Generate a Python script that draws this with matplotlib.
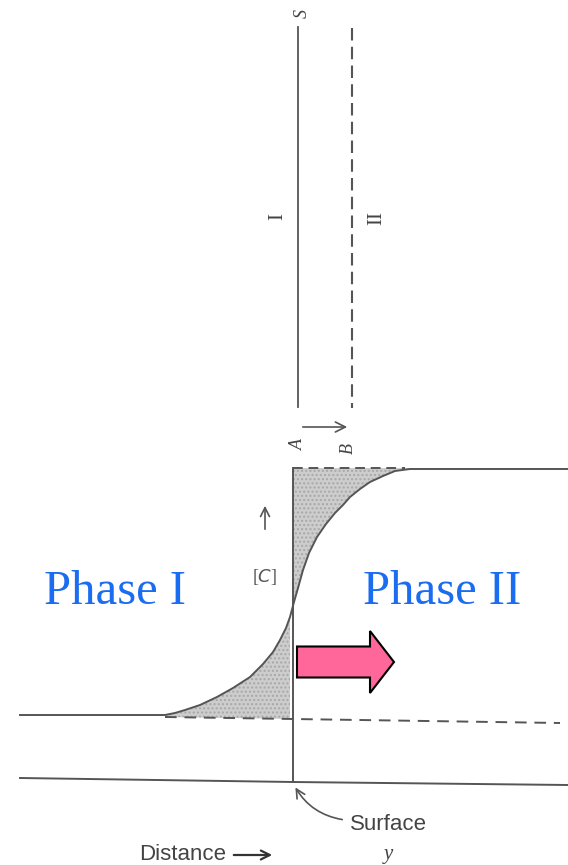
import matplotlib
matplotlib.use("Agg")
import matplotlib.pyplot as plt
import matplotlib.patches as mpatches

# profil stezenia [C] (piksele obrazu)
curve_x = [20, 165, 175, 185, 200, 217, 233, 250, 263, 273, 280, 286, 290, 294,
           298, 303, 309, 317, 326, 335, 343, 350, 360, 370, 383, 395, 410, 568]
curve_y = [715, 715, 713, 710, 705, 697, 688, 677, 664, 652, 640, 628, 617, 602,
           588, 570, 553, 537, 524, 513, 505, 497, 489, 482, 476, 471, 469, 469]

surface_x = 293
top_level = 468
low_level_x = [165, 293, 560]
low_level_y = [717, 719, 723]
axis_x = [20, 293, 568]
axis_y = [778, 782, 785]

line_col = "#555555"
text_col = "#444444"
blue = "#1a6cf0"

fig = plt.figure(figsize=(5.68, 8.65), dpi=100)
ax = fig.add_axes([0, 0, 1, 1])
ax.set_xlim(0, 568)
ax.set_ylim(865, 0)
ax.axis("off")

# gorny panel (obrocony wykres)
ax.plot([298, 298], [27, 407], color=line_col, lw=1.3)
ax.plot([352, 352], [28, 408], color=line_col, lw=1.5, dashes=(6, 3))
ax.annotate("", xy=(350, 427), xytext=(300, 427),
            arrowprops=dict(arrowstyle="->", color=line_col, lw=1.2, mutation_scale=18))
serif_it = dict(rotation=90, ha="center", va="center", family="Liberation Serif",
                style="italic", fontsize=13, color=text_col)
ax.text(302, 13, "S", **serif_it)
ax.text(298, 445, "A", **serif_it)
ax.text(348, 448, "B", **serif_it)
ax.text(278, 217, "I", rotation=90, ha="center", va="center", family="Liberation Serif",
        fontsize=15, color=text_col)
ax.text(377, 218, "II", rotation=90, ha="center", va="center", family="Liberation Serif",
        fontsize=15, color=text_col)

# zacienione obszary
lo_x = [x for x in curve_x if 165 <= x <= surface_x]
lo_y = [y for x, y in zip(curve_x, curve_y) if 165 <= x <= surface_x]
lo_base = [717 + (x - 165) * 2 / 128 for x in lo_x]
ax.fill_between(lo_x, lo_y, lo_base, facecolor="#cdcdcd", edgecolor="#a8a8a8",
                hatch="....", lw=0)
hi_x = [surface_x] + [x for x in curve_x if surface_x < x <= 410]
hi_y = [604] + [y for x, y in zip(curve_x, curve_y) if surface_x < x <= 410]
ax.fill_between(hi_x, top_level, hi_y, facecolor="#cdcdcd", edgecolor="#a8a8a8",
                hatch="....", lw=0)

# linie
ax.plot(curve_x, curve_y, color=line_col, lw=1.4)
ax.plot([surface_x, surface_x], [top_level, axis_y[1]], color=line_col, lw=1.4)
ax.plot([surface_x, 405], [top_level, top_level], color=line_col, lw=1.4, dashes=(5, 3))
ax.plot(low_level_x, low_level_y, color=line_col, lw=1.4, dashes=(6, 4))
ax.plot(axis_x, axis_y, color=line_col, lw=1.4)

# [C]
ax.annotate("", xy=(265, 503), xytext=(265, 532),
            arrowprops=dict(arrowstyle="->", color=line_col, lw=1.2, mutation_scale=16))
ax.text(265, 577, "[$C$]", ha="center", va="center", family="Liberation Serif",
        fontsize=13, color=line_col)

# napisy faz
ax.text(115, 592, "Phase I", ha="center", va="center", family="Liberation Serif",
        fontsize=35, color=blue)
ax.text(442, 592, "Phase II", ha="center", va="center", family="Liberation Serif",
        fontsize=35, color=blue)

# rozowa strzalka
ax.add_patch(mpatches.FancyArrow(297, 662, 73, 0, width=31, head_width=62, head_length=24,
                                 length_includes_head=False, facecolor="#ff6699",
                                 edgecolor="black", lw=1.5))

# podpisy dolne
ax.annotate("", xy=(294, 785), xytext=(345, 820),
            arrowprops=dict(arrowstyle="->", color=line_col, lw=1.2, mutation_scale=16,
                            connectionstyle="arc3,rad=-0.25"))
ax.text(388, 824, "Surface", ha="center", va="center", family="Liberation Sans",
        fontsize=16, color=text_col)
ax.text(388, 855, "y", ha="center", va="center", family="Liberation Serif",
        style="italic", fontsize=15, color=text_col)
ax.text(183, 855, "Distance", ha="center", va="center", family="Liberation Sans",
        fontsize=16, color=text_col)
ax.annotate("", xy=(275, 855), xytext=(231, 855),
            arrowprops=dict(arrowstyle="->", color="#333333", lw=1.6, mutation_scale=16))

fig.savefig("out.png", dpi=100)
